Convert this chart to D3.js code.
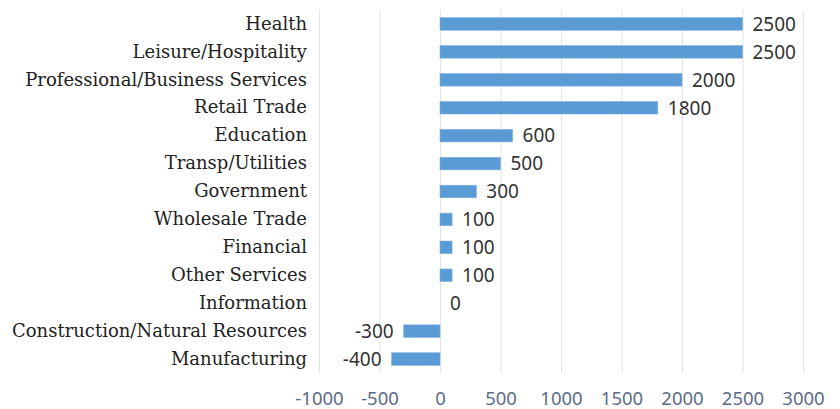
<!DOCTYPE html>
<html>
<head>
<meta charset="utf-8">
<script src="https://cdn.jsdelivr.net/npm/d3@7"></script>
<style>
  html, body { margin: 0; padding: 0; background: #fff; }
</style>
</head>
<body>
<svg id="chart" width="840" height="409"></svg>
<script>
const categories = [
  "Health", "Leisure/Hospitality", "Professional/Business Services", "Retail Trade",
  "Education", "Transp/Utilities", "Government", "Wholesale Trade", "Financial",
  "Other Services", "Information", "Construction/Natural Resources", "Manufacturing"
];
const values = [2500, 2500, 2000, 1800, 600, 500, 300, 100, 100, 100, 0, -300, -400];
const xTicks = [-1000, -500, 0, 500, 1000, 1500, 2000, 2500, 3000];

const svg = d3.select("#chart");
const plotLeft = 319, plotRight = 803, plotTop = 10, plotBottom = 373;

const x = d3.scaleLinear().domain([-1000, 3000]).range([plotLeft, plotRight]);
const y = d3.scaleBand().domain(categories).range([plotTop, plotBottom]).paddingInner(0.55).paddingOuter(0.275);

// gridlines
const grid = svg.append("g")
  .attr("transform", `translate(0,${plotBottom})`)
  .call(d3.axisBottom(x).tickValues(xTicks).tickSize(-(plotBottom - plotTop)).tickFormat(""));
grid.select(".domain").remove();
grid.selectAll(".tick line").attr("stroke", "#dfe3ea").attr("stroke-width", 1);

// x tick labels
const xa = svg.append("g")
  .attr("transform", `translate(0,${plotBottom})`)
  .call(d3.axisBottom(x).tickValues(xTicks).tickSize(0).tickPadding(19).tickFormat(d => String(d)));
xa.select(".domain").remove();
xa.selectAll("text")
  .attr("font-family", "'Noto Sans', sans-serif")
  .attr("font-size", 18.5)
  .attr("fill", "#5b6b86");

// bars
svg.append("g").selectAll("rect")
  .data(categories)
  .join("rect")
  .attr("x", (d, i) => Math.min(x(0), x(values[i])))
  .attr("y", d => y(d))
  .attr("width", (d, i) => Math.abs(x(values[i]) - x(0)))
  .attr("height", y.bandwidth())
  .attr("fill", "#5b9bd5")
  .attr("stroke", "#7fb0de")
  .attr("stroke-width", 0.6);

// value labels
svg.append("g").selectAll("text")
  .data(categories)
  .join("text")
  .attr("x", (d, i) => values[i] < 0 ? x(values[i]) - 10 : x(values[i]) + 10)
  .attr("y", d => y(d) + y.bandwidth() / 2)
  .attr("dy", "0.36em")
  .attr("text-anchor", (d, i) => values[i] < 0 ? "end" : "start")
  .attr("font-family", "'Noto Sans', sans-serif")
  .attr("font-size", 19)
  .attr("fill", "#333333")
  .text((d, i) => String(values[i]));

// category labels
const ya = svg.append("g")
  .attr("transform", `translate(307,0)`)
  .call(d3.axisLeft(y).tickSize(0).tickPadding(0));
ya.select(".domain").remove();
ya.selectAll("text")
  .attr("font-family", "'DejaVu Serif', serif")
  .attr("font-size", 18)
  .attr("fill", "#222222");
</script>
</body>
</html>
